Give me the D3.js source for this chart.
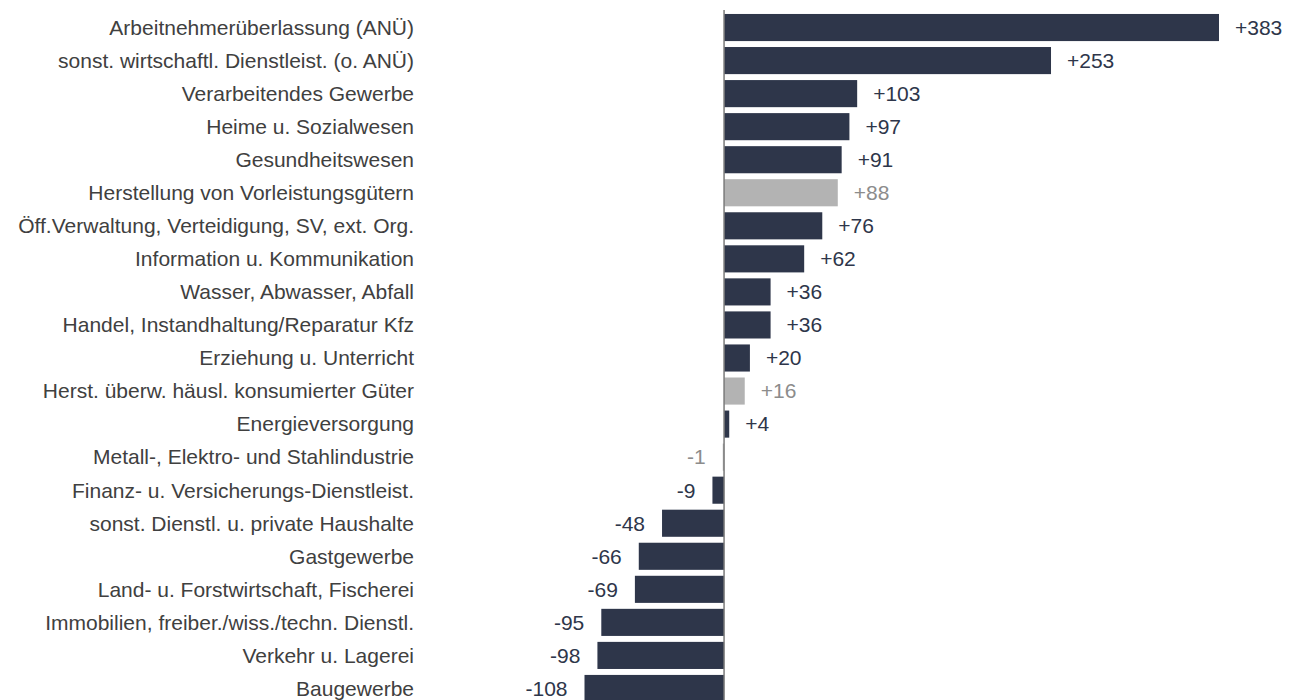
<!DOCTYPE html>
<html lang="de">
<head>
    <meta charset="UTF-8">
    <title>Veränderung nach Wirtschaftszweigen</title>
    <script src="https://d3js.org/d3.v7.min.js"></script>
    <style>
        body { margin: 0; background: white; }
        text { font-family: "Liberation Sans", Arial, sans-serif; }
    </style>
</head>
<body>
    <div id="chart"></div>
    <script>
        const categories = [
            "Arbeitnehmerüberlassung (ANÜ)",
            "sonst. wirtschaftl. Dienstleist. (o. ANÜ)",
            "Verarbeitendes Gewerbe",
            "Heime u. Sozialwesen",
            "Gesundheitswesen",
            "Herstellung von Vorleistungsgütern",
            "Öff.Verwaltung, Verteidigung, SV, ext. Org.",
            "Information u. Kommunikation",
            "Wasser, Abwasser, Abfall",
            "Handel, Instandhaltung/Reparatur Kfz",
            "Erziehung u. Unterricht",
            "Herst. überw. häusl. konsumierter Güter",
            "Energieversorgung",
            "Metall-, Elektro- und Stahlindustrie",
            "Finanz- u. Versicherungs-Dienstleist.",
            "sonst. Dienstl. u. private Haushalte",
            "Gastgewerbe",
            "Land- u. Forstwirtschaft, Fischerei",
            "Immobilien, freiber./wiss./techn. Dienstl.",
            "Verkehr u. Lagerei",
            "Baugewerbe"
        ];
        const values = [383, 253, 103, 97, 91, 88, 76, 62, 36, 36, 20, 16, 4, -1, -9, -48, -66, -69, -95, -98, -108];
        // sub-groups shown in grey
        const highlighted = [
            "Herstellung von Vorleistungsgütern",
            "Herst. überw. häusl. konsumierter Güter",
            "Metall-, Elektro- und Stahlindustrie"
        ];

        const width = 1293, height = 700;
        const dark = "#2e364a", grey = "#b3b3b3", greyText = "#8c8c8c";

        const data = categories.map((c, i) => ({ name: c, value: values[i], sub: highlighted.includes(c) }));

        const x = d3.scaleLinear()
            .domain([-108, 383])
            .range([584.5, 1219]);

        const y = d3.scaleBand()
            .domain(categories)
            .range([11, 705])
            .paddingInner(0.18)
            .paddingOuter(0.09);

        const svg = d3.select("#chart").append("svg")
            .attr("width", width)
            .attr("height", height);

        // bars
        svg.selectAll(".bar")
            .data(data)
            .enter().append("rect")
            .attr("class", "bar")
            .attr("x", d => x(Math.min(0, d.value)))
            .attr("y", d => y(d.name))
            .attr("width", d => Math.abs(x(d.value) - x(0)))
            .attr("height", y.bandwidth())
            .attr("fill", d => d.sub ? grey : dark);

        // zero line
        svg.append("line")
            .attr("x1", x(0)).attr("x2", x(0))
            .attr("y1", 10).attr("y2", height)
            .attr("stroke", "#7a7a7a")
            .attr("stroke-width", 1.5);

        // category labels
        svg.selectAll(".cat")
            .data(data)
            .enter().append("text")
            .attr("class", "cat")
            .attr("x", 414)
            .attr("y", d => y(d.name) + y.bandwidth() / 2)
            .attr("dy", "0.35em")
            .attr("text-anchor", "end")
            .attr("font-size", 21)
            .attr("fill", "#404040")
            .text(d => d.name);

        // value labels
        svg.selectAll(".val")
            .data(data)
            .enter().append("text")
            .attr("class", "val")
            .attr("x", d => d.value >= 0 ? x(d.value) + 16 : x(d.value) - 17)
            .attr("y", d => y(d.name) + y.bandwidth() / 2)
            .attr("dy", "0.35em")
            .attr("text-anchor", d => d.value >= 0 ? "start" : "end")
            .attr("font-size", 21)
            .attr("fill", d => d.sub ? greyText : dark)
            .text(d => (d.value > 0 ? "+" : "") + d.value);
    </script>
</body>
</html>
